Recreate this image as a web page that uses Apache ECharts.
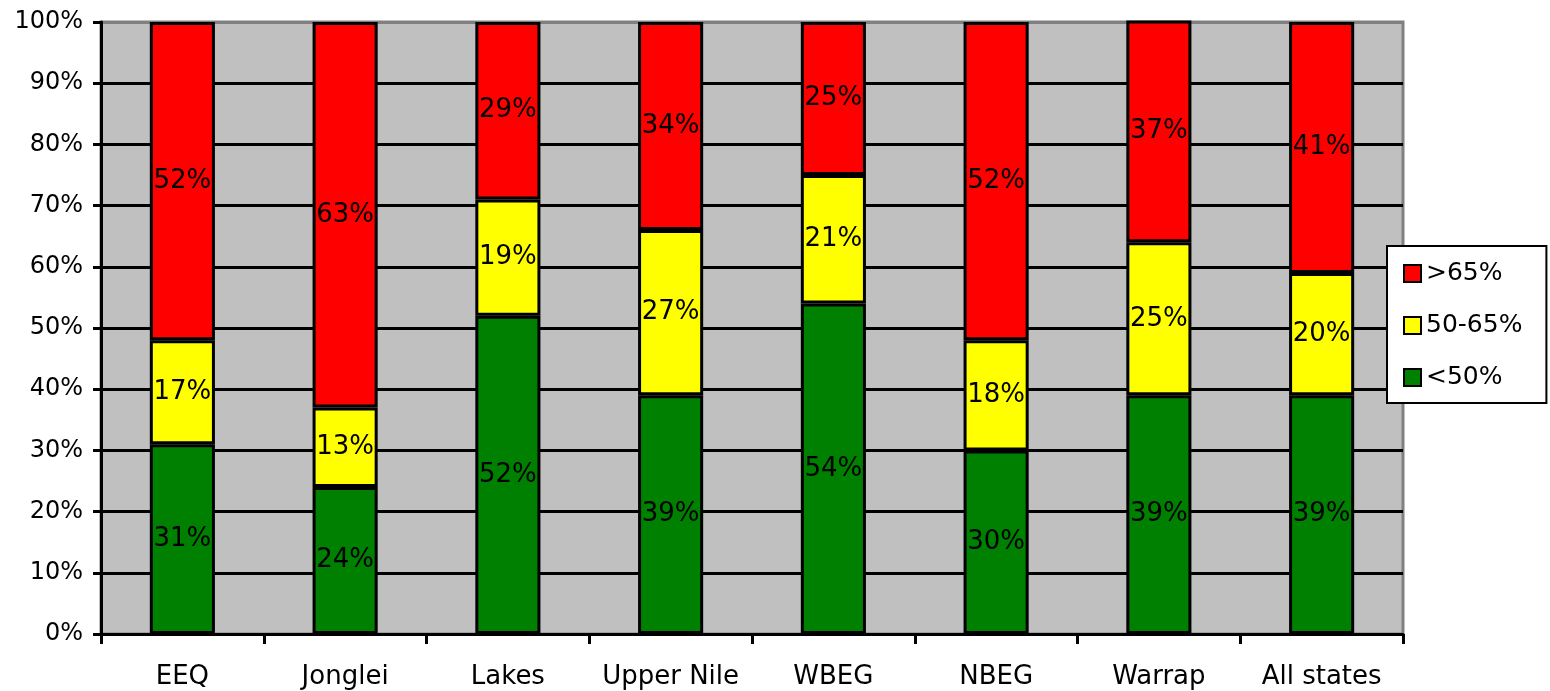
<!DOCTYPE html>
<html>
<head>
<meta charset="utf-8">
<script src="https://cdn.jsdelivr.net/npm/echarts@6/dist/echarts.min.js"></script>
<style>
html,body{margin:0;padding:0;background:#fff;}
#chart{width:1550px;height:691px;}
</style>
</head>
<body>
<div id="chart"></div>
<script>
var categories = ['EEQ', 'Jonglei', 'Lakes', 'Upper Nile', 'WBEG', 'NBEG', 'Warrap', 'All states'];
var below50 = [31, 24, 52, 39, 54, 30, 39, 39];
var mid50to65 = [17, 13, 19, 27, 21, 18, 25, 20];
var above65 = [52, 63, 29, 34, 25, 52, 37, 41];
var seriesNames = ['<50%', '50-65%', '>65%'];
var legendOrder = ['>65%', '50-65%', '<50%'];

var FONT = '"DejaVu Sans", "Liberation Sans", Arial, sans-serif';
var chart = echarts.init(document.getElementById('chart'), null, {renderer: 'canvas'});

function mkSeries(name, data, color) {
  return {
    name: name,
    type: 'bar',
    stack: 'total',
    data: data,
    barWidth: '40%',
    itemStyle: {color: color, borderColor: '#000', borderWidth: 3},
    label: {
      show: true,
      position: 'inside',
      color: '#000',
      fontFamily: FONT,
      fontSize: 26,
      formatter: function (p) { return p.value + '%'; }
    },
    emphasis: {disabled: true}
  };
}

var splitColors = [];
for (var i = 0; i < 10; i++) splitColors.push('#000');
splitColors.push('#808080');

chart.setOption({
  animation: false,
  backgroundColor: '#fff',
  grid: {
    left: 101, right: 147, top: 22, bottom: 57,
    show: true, backgroundColor: '#C0C0C0', borderColor: '#808080', borderWidth: 3
  },
  legend: {
    data: legendOrder,
    orient: 'vertical',
    left: 1387,
    top: 246,
    backgroundColor: '#fff',
    borderColor: '#000',
    borderWidth: 2,
    padding: [15, 24, 13, 16],
    itemWidth: 17,
    itemHeight: 17,
    itemGap: 27,
    icon: 'rect',
    itemStyle: {borderColor: '#000', borderWidth: 2},
    textStyle: {fontFamily: FONT, fontSize: 25, color: '#000'}
  },
  xAxis: {
    type: 'category',
    data: categories,
    axisLine: {lineStyle: {color: '#000', width: 3}},
    axisTick: {show: true, interval: 0, length: 10, lineStyle: {color: '#000', width: 3}},
    axisLabel: {interval: 0, color: '#000', fontFamily: FONT, fontSize: 26, margin: 30},
    splitLine: {show: false}
  },
  yAxis: {
    type: 'value',
    min: 0, max: 100, interval: 10,
    axisLine: {show: true, lineStyle: {color: '#000', width: 3}},
    axisTick: {show: true, length: 8, lineStyle: {color: '#000', width: 3}},
    axisLabel: {color: '#000', fontFamily: FONT, fontSize: 24, margin: 18,
      formatter: function (v) { return v + '%'; }},
    splitLine: {show: true, lineStyle: {color: splitColors, width: 3}}
  },
  series: [
    mkSeries(seriesNames[0], below50, '#008000'),
    mkSeries(seriesNames[1], mid50to65, '#FFFF00'),
    mkSeries(seriesNames[2], above65, '#FF0000')
  ]
});
</script>
</body>
</html>
